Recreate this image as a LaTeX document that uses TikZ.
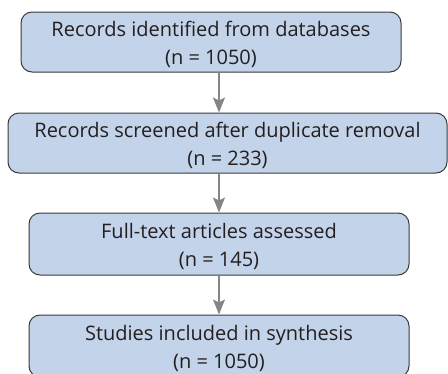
\documentclass[tikz,border=0pt]{standalone}
\usepackage{fontspec}
\setmainfont{Open Sans}
\usetikzlibrary{arrows.meta}
\definecolor{boxfill}{HTML}{C3D3EA}
\definecolor{boxline}{HTML}{3A3A3A}
\definecolor{arrowgray}{HTML}{858585}
\definecolor{txt}{HTML}{231F20}
\newcommand{\toppad}{\rule{0pt}{21pt}}
\begin{document}
\begin{tikzpicture}[x=1pt,y=-1pt,
  flowbox/.style={draw=boxline, fill=boxfill, line width=1pt, rounded corners=11pt,
    minimum height=60pt, align=center, text=txt, font=\fontsize{20}{28}\selectfont, inner sep=0pt},
  flowarrow/.style={draw=arrowgray, line width=1.6pt, -{Stealth[length=15pt,width=12pt,inset=3pt]}}]
\useasboundingbox (0,0) rectangle (448,373);
\begin{scope}
\clip (0,0) rectangle (448,373);
\node[flowbox, minimum width=380pt] (b1) at (211,42) {\toppad Records identified from databases\\(n = 1050)};
\node[flowbox, minimum width=439pt] (b2) at (227.5,143) {\toppad Records screened after duplicate removal\\(n = 233)};
\node[flowbox, minimum width=380pt, minimum height=62pt] (b3) at (219,244) {\toppad Full-text articles assessed\\(n = 145)};
\node[flowbox, minimum width=380pt, minimum height=62pt] (b4) at (219,346) {\toppad Studies included in synthesis\\(n = 1050)};
\end{scope}
\coordinate (ax) at (219,0);
\draw[flowarrow] (b1.south -| ax) -- (b2.north -| ax);
\draw[flowarrow] (b2.south -| ax) -- (b3.north -| ax);
\draw[flowarrow] (b3.south -| ax) -- (b4.north -| ax);
\end{tikzpicture}
\end{document}
